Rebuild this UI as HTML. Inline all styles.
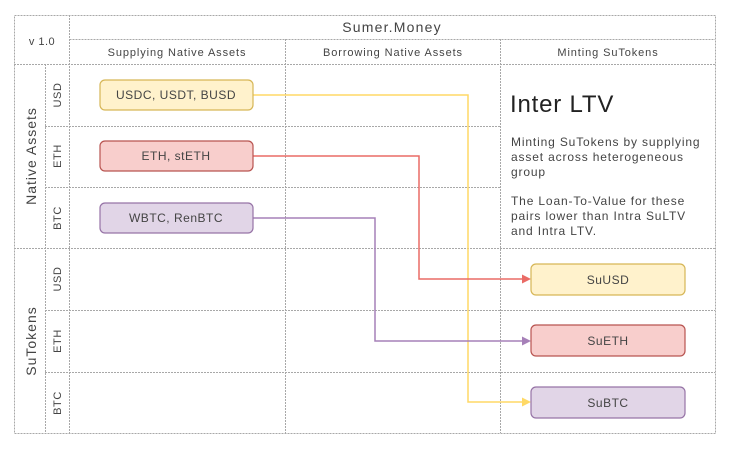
<!DOCTYPE html>
<html><head><meta charset="utf-8"><style>
html,body{margin:0;padding:0;background:#fff;}
svg{display:block;font-family:"Liberation Sans",sans-serif;}
</style></head><body>
<svg width="735" height="452" viewBox="0 0 735 452" xmlns="http://www.w3.org/2000/svg">
<g stroke="#a8a8a8" stroke-width="1" stroke-dasharray="2,1" fill="none">
<rect x="14.5" y="15.5" width="701" height="418"/>
<line x1="69.5" y1="39.5" x2="715" y2="39.5"/>
<line x1="14" y1="64.5" x2="715" y2="64.5"/>
<line x1="69.5" y1="15" x2="69.5" y2="433"/>
<line x1="45.5" y1="64" x2="45.5" y2="433"/>
<line x1="285.5" y1="39" x2="285.5" y2="433"/>
<line x1="500.5" y1="39" x2="500.5" y2="433"/>
<line x1="45" y1="126.5" x2="500" y2="126.5"/>
<line x1="45" y1="187.5" x2="500" y2="187.5"/>
<line x1="14" y1="248.5" x2="715" y2="248.5"/>
<line x1="45" y1="310.5" x2="715" y2="310.5"/>
<line x1="45" y1="372.5" x2="715" y2="372.5"/>
</g>
<g fill="#444" text-anchor="middle">
<text x="392" y="32" font-size="14" letter-spacing="1.2">Sumer.Money</text>
<text x="42" y="45" font-size="11" letter-spacing="0.5">v 1.0</text>
<text x="177" y="56" font-size="11" letter-spacing="0.9">Supplying Native Assets</text>
<text x="393" y="56" font-size="11" letter-spacing="0.9">Borrowing Native Assets</text>
<text x="608" y="56" font-size="11" letter-spacing="0.9">Minting SuTokens</text>
<text transform="translate(36,156) rotate(-90)" font-size="14" letter-spacing="1">Native Assets</text>
<text transform="translate(36,341) rotate(-90)" font-size="14" letter-spacing="1">SuTokens</text>
<text transform="translate(61,95) rotate(-90)" font-size="11" letter-spacing="0.6">USD</text>
<text transform="translate(61,156) rotate(-90)" font-size="11" letter-spacing="0.6">ETH</text>
<text transform="translate(61,218) rotate(-90)" font-size="11" letter-spacing="0.6">BTC</text>
<text transform="translate(61,279) rotate(-90)" font-size="11" letter-spacing="0.6">USD</text>
<text transform="translate(61,341) rotate(-90)" font-size="11" letter-spacing="0.6">ETH</text>
<text transform="translate(61,403) rotate(-90)" font-size="11" letter-spacing="0.6">BTC</text>
</g>
<g fill="none" stroke-width="1.5">
<polyline points="253,95 468,95 468,402 523,402" stroke="#ffd966"/>
<polyline points="253,156 419,156 419,279 523,279" stroke="#ea6b66"/>
<polyline points="253,218 375,218 375,341 523,341" stroke="#a680b8"/>
</g>
<polygon points="531,402 522,397.5 522,406.5" fill="#ffd966"/>
<polygon points="531,279 522,274.5 522,283.5" fill="#ea6b66"/>
<polygon points="531,341 522,336.5 522,345.5" fill="#a680b8"/>
<g stroke-width="1.2">
<rect x="100" y="80" width="153" height="30" rx="5" fill="#fff2cc" stroke="#d6b656"/>
<rect x="100" y="141" width="153" height="30" rx="5" fill="#f8cecc" stroke="#b85450"/>
<rect x="100" y="203" width="153" height="30" rx="5" fill="#e1d5e7" stroke="#9673a6"/>
<rect x="531" y="264" width="154" height="31" rx="5" fill="#fff2cc" stroke="#d6b656"/>
<rect x="531" y="325" width="154" height="31" rx="5" fill="#f8cecc" stroke="#b85450"/>
<rect x="531" y="387" width="154" height="31" rx="5" fill="#e1d5e7" stroke="#9673a6"/>
</g>
<g fill="#444" text-anchor="middle" font-size="12" letter-spacing="0.5">
<text x="176" y="99">USDC, USDT, BUSD</text>
<text x="176" y="160">ETH, stETH</text>
<text x="176" y="222">WBTC, RenBTC</text>
<text x="608" y="284">SuUSD</text>
<text x="608" y="345">SuETH</text>
<text x="608" y="407">SuBTC</text>
</g>
<g fill="#222">
<text x="510" y="112" font-size="24" letter-spacing="0.8">Inter LTV</text>
<g font-size="12" fill="#444" letter-spacing="0.85">
<text x="511" y="146">Minting SuTokens by supplying</text>
<text x="511" y="161">asset across heterogeneous</text>
<text x="511" y="176">group</text>
<text x="511" y="205">The Loan-To-Value for these</text>
<text x="511" y="220">pairs lower than Intra SuLTV</text>
<text x="511" y="235">and Intra LTV.</text>
</g>
</g>
</svg>
</body></html>
